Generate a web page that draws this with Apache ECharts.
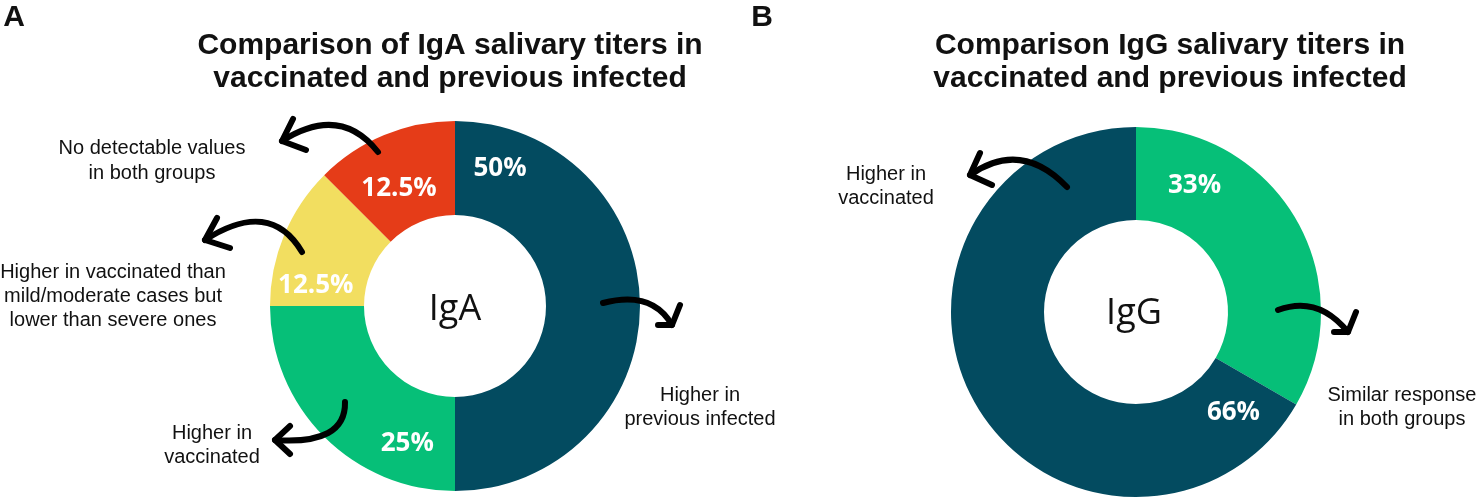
<!DOCTYPE html>
<html>
<head>
<meta charset="utf-8">
<script src="https://cdn.jsdelivr.net/npm/echarts@6/dist/echarts.min.js"></script>
<style>
  html, body { margin: 0; padding: 0; background: #fff; }
  #main { width: 1476px; height: 498px; }
</style>
</head>
<body>
<div id="main"></div>
<script>
// panel A - IgA
var igaNames = ['Higher in previous infected', 'Higher in vaccinated', 'Higher in vaccinated than mild/moderate cases but lower than severe ones', 'No detectable values in both groups'];
var igaValues = [50, 25, 12.5, 12.5];
// panel B - IgG
var iggNames = ['Similar response in both groups', 'Higher in vaccinated'];
var iggValues = [33, 66];

var igaColors = ['#034b60', '#06bf78', '#f2de60', '#e53c18'];
var iggColors = ['#06bf78', '#034b60'];
// shift of the % labels from the middle of each ring slice
var igaLabelShift = [[-96, -137], [52, 38], [-9, 34], [-2, 13]];
var iggLabelShift = [[-64, -56], [220, 30]];

var textFont = '"Liberation Sans", Arial, sans-serif';

function buildData(names, values, colors) {
  var out = [];
  for (var i = 0; i < values.length; i++) {
    out.push({ name: names[i], value: values[i], itemStyle: { color: colors[i] } });
  }
  return out;
}

function ring(center, radius, data, shift) {
  return {
    type: 'pie',
    center: center,
    radius: radius,
    startAngle: 90,
    clockwise: true,
    avoidLabelOverlap: false,
    silent: true,
    z: 1,
    data: data,
    itemStyle: { borderWidth: 0 },
    label: {
      show: true,
      position: 'inside',
      formatter: '{c}%',
      color: '#fff',
      fontFamily: 'Open Sans',
      fontWeight: 'bold',
      fontSize: 26
    },
    labelLine: { show: false },
    labelLayout: function (p) {
      return { dx: shift[p.dataIndex][0], dy: shift[p.dataIndex][1] };
    },
    emphasis: { disabled: true }
  };
}

function txt(x, y, text, size, weight, lh, family) {
  return {
    type: 'text', x: x, y: y, silent: true, z: 100,
    style: {
      text: text, fill: '#111',
      fontSize: size, fontWeight: weight || 'normal',
      fontFamily: family || textFont,
      lineHeight: lh || size * 1.2,
      align: 'center', textAlign: 'center',
      verticalAlign: 'middle', textVerticalAlign: 'middle'
    }
  };
}

// curved arrows: [x1, y1, cpx, cpy, tipx, tipy, head1x, head1y, head2x, head2y]
var arrows = [
  [378, 152, 340, 104, 282, 141, 293, 119, 306, 150],
  [302, 252, 270, 198, 205, 240, 217, 218, 230, 248],
  [345, 402, 346, 445, 275, 440, 290, 426, 290, 454],
  [603, 303, 652, 290, 672, 325, 680, 305, 658, 325],
  [1067, 187, 1021, 139, 970, 175, 980, 153, 992, 185],
  [1278, 310, 1318, 295, 1348, 332, 1356, 312, 1334, 332]
];

var graphics = [
  txt(14, 18, 'A', 30, 'bold'),
  txt(762, 18, 'B', 30, 'bold'),
  txt(450, 62, 'Comparison of IgA salivary titers in\nvaccinated and previous infected', 30, 'bold', 33),
  txt(1170, 62, 'Comparison IgG salivary titers in\nvaccinated and previous infected', 30, 'bold', 33),
  txt(455, 310, 'IgA', 36, 'normal', 40, 'Open Sans'),
  txt(1134, 314, 'IgG', 36, 'normal', 40, 'Open Sans'),
  txt(152, 161, 'No detectable values\nin both groups', 20, 'normal', 25),
  txt(113, 296, 'Higher in vaccinated than\nmild/moderate cases but\nlower than severe ones', 20, 'normal', 24),
  txt(212, 445, 'Higher in\nvaccinated', 20, 'normal', 24),
  txt(700, 407, 'Higher in\nprevious infected', 20, 'normal', 24),
  txt(886, 186, 'Higher in\nvaccinated', 20, 'normal', 24),
  txt(1402, 407, 'Similar response\nin both groups', 20, 'normal', 24)
];

for (var i = 0; i < arrows.length; i++) {
  var a = arrows[i];
  graphics.push({
    type: 'bezierCurve', silent: true, z: 100,
    shape: { x1: a[0], y1: a[1], cpx1: a[2], cpy1: a[3], x2: a[4], y2: a[5] },
    style: { stroke: '#000', lineWidth: 6, lineCap: 'round', fill: 'none' }
  });
  graphics.push({
    type: 'polyline', silent: true, z: 100,
    shape: { points: [[a[6], a[7]], [a[4], a[5]], [a[8], a[9]]] },
    style: { stroke: '#000', lineWidth: 6, lineCap: 'round', lineJoin: 'round', fill: 'none' }
  });
}

var myChart = echarts.init(document.getElementById('main'));
var option = {
  backgroundColor: '#fff',
  animation: false,
  series: [
    ring([455, 306], [91, 185], buildData(igaNames, igaValues, igaColors), igaLabelShift),
    ring([1136, 312], [92, 185], buildData(iggNames, iggValues, iggColors), iggLabelShift)
  ],
  graphic: graphics
};
myChart.setOption(option);
</script>
</body>
</html>
